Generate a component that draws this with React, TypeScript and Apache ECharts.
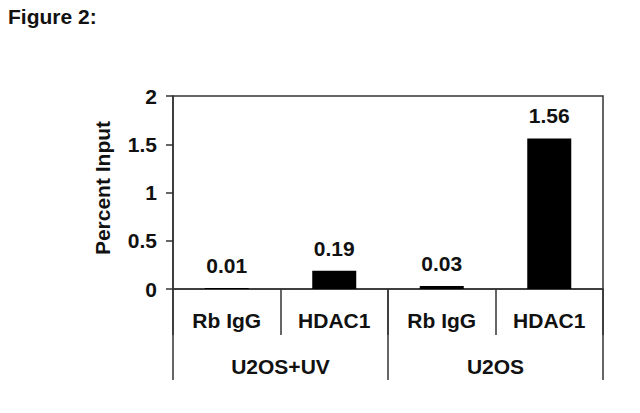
import React, { useEffect, useRef } from "react";
import * as echarts from "echarts";

const antibodies = ["Rb IgG", "HDAC1", "Rb IgG", "HDAC1"];
const cellLines = ["U2OS+UV", "U2OS"];
const percentInput = [0.01, 0.19, 0.03, 1.56];
const yTicks = { min: 0, max: 2, interval: 0.5 };

const FONT = "'Liberation Sans', Arial, sans-serif";
const LINE = "#333";
const TEXT = "#111";
const FS = 21;

export default function App() {
  const ref = useRef<HTMLDivElement>(null);
  useEffect(() => {
    if (!ref.current) return;
    const chart = echarts.init(ref.current, null, { renderer: "svg" });
    chart.setOption({
      animation: false,
      backgroundColor: "#ffffff",
      grid: {
        left: 173,
        top: 96,
        right: 37,
        bottom: 124,
        show: true,
        borderColor: LINE,
        borderWidth: 1.5,
        backgroundColor: "transparent",
      },
      xAxis: [
        {
          type: "category",
          data: antibodies,
          position: "bottom",
          axisLine: { show: true, lineStyle: { color: LINE, width: 1.5 } },
          axisTick: { show: true, interval: 0, length: 46, lineStyle: { color: LINE, width: 1.5 } },
          axisLabel: {
            interval: 0,
            margin: 21,
            fontFamily: FONT,
            fontWeight: "bold",
            fontSize: FS,
            color: TEXT,
          },
          splitLine: { show: false },
        },
        {
          type: "category",
          data: cellLines,
          position: "bottom",
          axisLine: { show: false },
          axisTick: { show: true, interval: 0, length: 91, lineStyle: { color: LINE, width: 1.5 } },
          axisLabel: {
            interval: 0,
            margin: 67,
            fontFamily: FONT,
            fontWeight: "bold",
            fontSize: FS,
            color: TEXT,
          },
          splitLine: { show: false },
        },
      ],
      yAxis: {
        type: "value",
        min: yTicks.min,
        max: yTicks.max,
        interval: yTicks.interval,
        axisLine: { show: true, lineStyle: { color: LINE, width: 1.5 } },
        axisTick: { show: true, inside: false, length: 7, lineStyle: { color: LINE, width: 1.5 } },
        axisLabel: {
          margin: 16,
          fontFamily: FONT,
          fontWeight: "bold",
          fontSize: FS,
          color: TEXT,
        },
        splitLine: { show: false },
      },
      graphic: [
        {
          type: "text",
          left: 8,
          top: 6,
          style: {
            text: "Figure 2:",
            fontFamily: FONT,
            fontWeight: "bold",
            fontSize: FS,
            fill: TEXT,
          },
        },
        {
          type: "text",
          x: 102,
          y: 188,
          rotation: Math.PI / 2,
          style: {
            text: "Percent Input",
            fontFamily: FONT,
            fontWeight: "bold",
            fontSize: FS,
            fill: TEXT,
            align: "center",
            verticalAlign: "middle",
          },
        },
      ],
      series: [
        {
          type: "bar",
          xAxisIndex: 0,
          data: percentInput,
          barWidth: 44,
          itemStyle: { color: "#000000" },
          label: {
            show: true,
            position: "top",
            distance: 12,
            fontFamily: FONT,
            fontWeight: "bold",
            fontSize: FS,
            color: TEXT,
          },
        },
      ],
    });
    return () => chart.dispose();
  }, []);
  return (
    <div
      ref={ref}
      style={{ position: "fixed", left: 0, top: 0, width: 640, height: 413 }}
    />
  );
}
